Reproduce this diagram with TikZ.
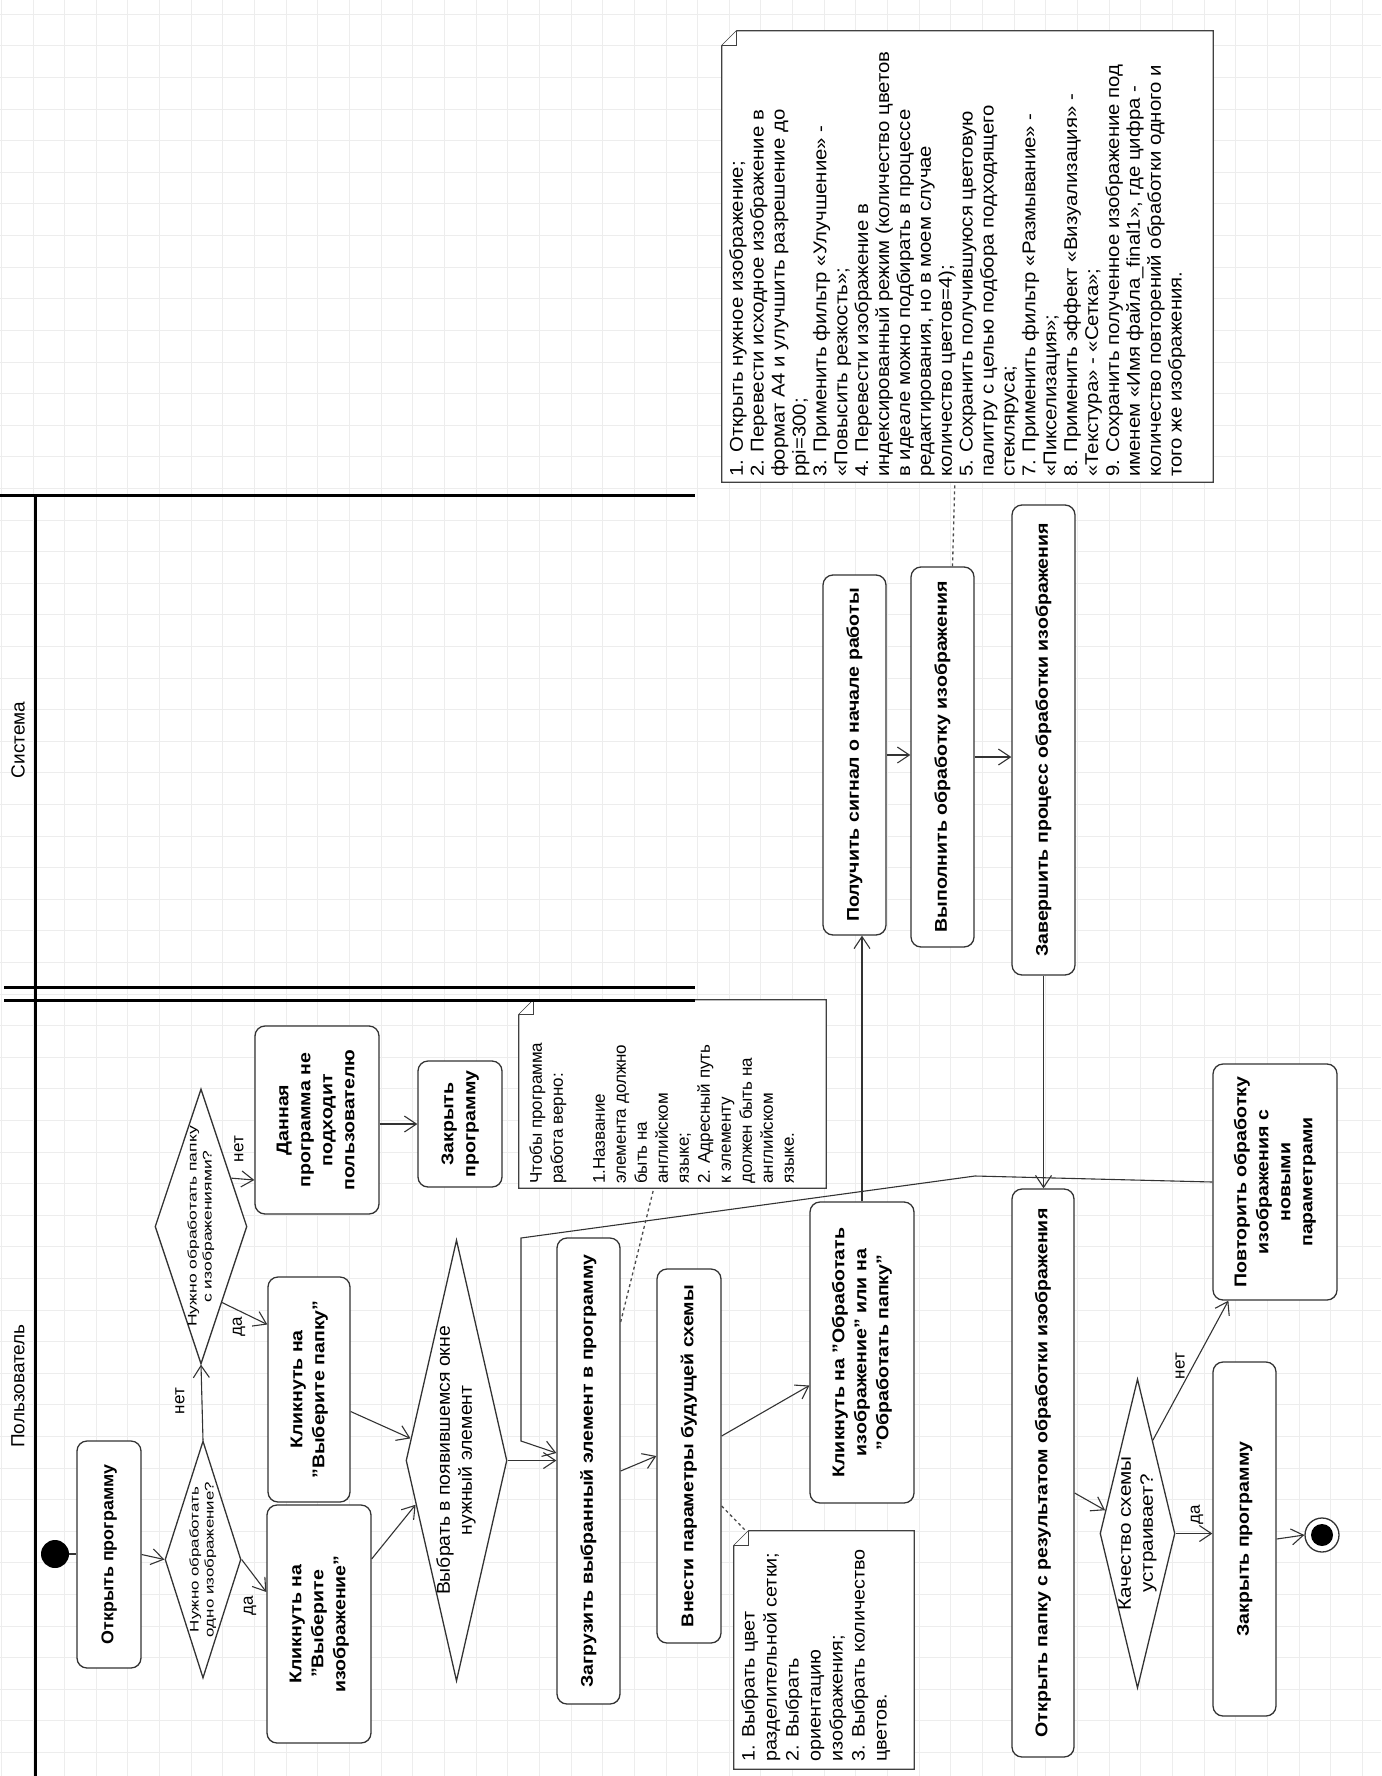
\documentclass[tikz,border=0pt]{standalone}
\usepackage{fontspec}
\setmainfont{Liberation Sans}
\usetikzlibrary{arrows.meta,calc,shapes.geometric}
\newcommand{\rt}[2][1.15]{\rotatebox{90}{\scalebox{#1}[1]{\begin{tabular}{@{}c@{}}#2\end{tabular}}}}
\newcommand{\rtl}[2][1.1]{\rotatebox{90}{\scalebox{#1}[1]{\begin{tabular}{@{}l@{}}#2\end{tabular}}}}
\newcommand{\foldnote}[1]{%
  \filldraw[notestyle] ($(#1.north west)+(15,0)$) -- (#1.north east) -- (#1.south east) -- (#1.south west) -- ($(#1.north west)+(0,15)$) -- cycle;
  \draw[notestyle] ($(#1.north west)+(0,15)$) -- ($(#1.north west)+(15,15)$) -- ($(#1.north west)+(15,0)$);}
\begin{document}
\begin{tikzpicture}[x=1pt,y=-1pt,
  gridline/.style={draw=black!7, line width=1pt},
  lane/.style={draw=black, line width=3pt},
  lanelabel/.style={rotate=90, inner sep=0pt, font=\fontsize{19}{22}\selectfont},
  act/.style={draw=black!80, line width=1.3pt, rounded corners=10pt, fill=white, inner sep=0pt, font=\bfseries\fontsize{17}{22}\selectfont},
  dia/.style={diamond, draw=black!80, line width=1.3pt, fill=white, inner sep=0pt},
  diatext/.style={inner sep=0pt},
  arr/.style={draw=black!80, line width=1.1pt, -{Straight Barb[length=12pt,width=16pt,line width=1.1pt]}},
  link/.style={draw=black!80, line width=1.1pt},
  dots/.style={draw=black!70, line width=1.3pt, dash pattern=on 3pt off 3pt},
  notebg/.style={inner sep=0pt, draw=none},
  notestyle/.style={draw=black!75, line width=1.3pt, fill=white},
  notetext/.style={inner sep=0pt, anchor=south west},
  guard/.style={rotate=90, inner sep=0pt, font=\fontsize{17}{20}\selectfont}]
\useasboundingbox (0,0) rectangle (1381,1776);
\fill[white] (0,0) rectangle (1381,1776);
\foreach \i in {0,...,43} \draw[gridline] ({1.35+31.65*\i},0) -- ({1.35+31.65*\i},1776);
\foreach \j in {0,...,55} \draw[gridline] (0,{14.4+31.6*\j}) -- (1381,{14.4+31.6*\j});

% notes (shapes)
\node[notebg, minimum width=491pt, minimum height=451pt] (n3) at (967.5,256.5) {};
\node[notebg, minimum width=307pt, minimum height=188pt] (n1) at (672.5,1094) {};
\node[notebg, minimum width=180pt, minimum height=238pt] (n2) at (824,1650) {};
\foldnote{n3}
\foldnote{n1}
\foldnote{n2}

% lanes
\draw[lane] (0,495) -- (695,495);
\draw[lane] (35,495) -- (35,1776);
\draw[lane] (4,987) -- (695,987);
\draw[lane] (4,1000) -- (695,1000);
\node[lanelabel] (lsys) at (18,740) {Система};
\node[lanelabel] (lusr) at (18,1386) {Пользователь};

% note texts
\node[notetext, font=\fontsize{18.5}{20.9}\selectfont] (t3) at (728,477) {\rtl[1.1]{1. Открыть нужное изображение;\\
2. Перевести исходное изображение в\\
формат А4 и улучшить разрешение до\\
ppi=300;\\
3. Применить фильтр «Улучшение» -\\
«Повысить резкость»;\\
4. Перевести изображение в\\
индексированный режим (количество цветов\\
в идеале можно подбирать в процессе\\
редактирования, но в моем случае\\
количество цветов=4);\\
5. Сохранить получившуюся цветовую\\
палитру с целью подбора подходящего\\
стекляруса;\\
7. Применить фильтр «Размывание» -\\
«Пикселизация»;\\
8. Применить эффект «Визуализация» -\\
«Текстура» - «Сетка»;\\
9. Сохранить полученное изображение под\\
именем «Имя файла\_final1», где цифра -\\
количество повторений обработки одного и\\
того же изображения.}};
\node[notetext, font=\fontsize{17}{21}\selectfont] (t1) at (527,1184) {\rtl[1.0]{Чтобы программа\\
работа верно:\\
\\
1.Название\\
элемента должно\\
быть на\\
английском\\
языке;\\
2. Адресный путь\\
к элементу\\
должен быть на\\
английском\\
языке.}};
\node[notetext, font=\fontsize{18}{22}\selectfont] (t2) at (739,1762) {\rtl[1.1]{1. Выбрать цвет\\
разделительной сетки;\\
2. Выбрать\\
ориентацию\\
изображения;\\
3. Выбрать количество\\
цветов.}};

% start / end
\node[circle, fill=black, minimum size=28pt, inner sep=0pt] (start) at (55,1554) {};
\node[circle, draw=black!80, line width=1.3pt, fill=white, minimum size=34pt, inner sep=0pt] (end) at (1322,1535) {};
\node[circle, fill=black, minimum size=22pt, inner sep=0pt] (endin) at (end) {};

% actions
\node[act, minimum width=64pt, minimum height=227pt] (open) at (109,1554.5) {\rt[1.05]{Открыть программу}};
\node[act, minimum width=104pt, minimum height=238pt] (clickImg) at (319,1624) {\rt{Кликнуть на\\"Выберите\\изображение"}};
\node[act, minimum width=82pt, minimum height=225pt] (clickDir) at (309,1389.5) {\rt{Кликнуть на\\"Выберите папку"}};
\node[act, minimum width=124pt, minimum height=188pt] (notSuit) at (317,1120) {\rt{Данная\\программа не\\подходит\\пользователю}};
\node[act, minimum width=84pt, minimum height=126pt] (close1) at (460,1124) {\rt{Закрыть\\программу}};
\node[act, minimum width=63pt, minimum height=466pt] (load) at (588.5,1471) {\rt{Загрузить выбранный элемент в программу}};
\node[act, minimum width=64pt, minimum height=374pt] (params) at (689,1456) {\rt{Внести параметры будущей схемы}};
\node[act, minimum width=104pt, minimum height=301pt] (clickProc) at (862,1352.5) {\rt{Кликнуть на "Обработать\\изображение" или на\\"Обработать папку"}};
\node[act, minimum width=63pt, minimum height=360pt] (signal) at (854.5,755) {\rt{Получить сигнал о начале работы}};
\node[act, minimum width=63pt, minimum height=380pt] (exec) at (942.5,757) {\rt{Выполнить обработку изображения}};
\node[act, minimum width=63pt, minimum height=470pt] (finish) at (1043.5,740) {\rt{Завершить процесс обработки изображения}};
\node[act, minimum width=62pt, minimum height=568pt] (openDir) at (1043,1473) {\rt{Открыть папку с результатом обработки изображения}};
\node[act, minimum width=124pt, minimum height=236pt] (repeat) at (1275,1182) {\rt{Повторить обработку\\изображения с\\новыми\\параметрами}};
\node[act, minimum width=63pt, minimum height=354pt] (close2) at (1244.5,1539) {\rt{Закрыть программу}};

% decisions
\node[dia, minimum width=76pt, minimum height=237pt] (d1) at (203,1559.5) {};
\node[diatext, font=\fontsize{12.5}{15}\selectfont] (d1t) at (d1) {\rt[1.35]{Нужно обработать\\одно изображение?}};
\node[dia, minimum width=92pt, minimum height=275pt] (d2) at (201,1226.5) {};
\node[diatext, font=\fontsize{12.5}{15}\selectfont] (d2t) at (d2) {\rt[1.4]{Нужно обработать папку\\с изображениями?}};
\node[dia, minimum width=101pt, minimum height=441pt] (d3) at (456.5,1460.5) {};
\node[diatext, font=\fontsize{18.5}{22}\selectfont] (d3t) at (d3) {\rt[1.05]{Выбрать в появившемся окне\\нужный элемент}};
\node[dia, minimum width=75pt, minimum height=309pt] (d4) at (1137.5,1533.5) {};
\node[diatext, font=\fontsize{18}{22}\selectfont] (d4t) at (d4) {\rt[1.15]{Качество схемы\\устраивает?}};

% guards
\node[guard] (g1) at (180,1401) {нет};
\node[guard] (g2) at (250,1606) {да};
\node[guard] (g3) at (239,1327) {да};
\node[guard] (g4) at (239,1149) {нет};
\node[guard] (g5) at (1180,1366) {нет};
\node[guard] (g6) at (1197,1515) {да};

% connectors
\draw[link] (start.east) -- (open.west |- start.east);
\draw[arr] (open.east) -- (d1.west);
\draw[arr] (d1.north) -- (d2.south);
\draw[arr] (d1.east) -- ($(clickImg.west)+(0,-32)$);
\draw[arr] ($(d2.east)!0.55!(d2.south)$) -- ($(clickDir.west)+(0,-65)$);
\draw[arr] ($(d2.east)!0.35!(d2.north)$) -- ($(notSuit.west)+(0,60)$);
\draw[arr] (close1.west -| notSuit.east) -- (close1.west);
\draw[arr] ($(clickDir.east)+(0,22)$) -- ($(d3.west)!0.1!(d3.north)$);
\draw[arr] ($(clickImg.east)+(0,-65)$) -- ($(d3.west)!0.2!(d3.south)$);
\draw[arr] (d3.east) -- (d3.east -| load.west);
\draw[arr] (load.east) -- (params.west);
\draw[arr] ($(params.east)+(0,-20)$) -- ($(clickProc.west)+(0,33)$);
\draw[arr] (clickProc.north) -- (clickProc.north |- signal.south);
\draw[arr] (signal.east) -- (signal.east -| exec.west);
\draw[arr] (exec.east) -- (exec.east -| finish.west);
\draw[arr] (finish.south) -- (finish.south |- openDir.north);
\draw[arr] ($(openDir.east)+(0,20)$) -- ($(d4.west)!0.15!(d4.north)$);
\draw[arr] ($(d4.north)!0.4!(d4.east)$) -- ($(repeat.south west)+(16,0)$);
\draw[arr] (d4.east) -- (d4.east -| close2.west);
\draw[arr] (close2.east) -- (end.west);
\coordinate (k1) at (975,1176);
\coordinate (k2) at (521,1238);
\coordinate (k3) at (521,1441);
\draw[arr] (repeat.west) -- (k1) -- (k2) -- (k3) -- ($(load.west)+(0,-18)$);

% note links
\draw[dots] ($(load.east)+(0,-149)$) -- ($(n1.south west)+(135,0)$);
\draw[dots] ($(params.east)+(0,50)$) -- ($(n2.north west)+(12,0)$);
\draw[dots] ($(exec.north)+(10,0)$) -- ($(n3.south west)+(233,0)$);
\end{tikzpicture}
\end{document}
